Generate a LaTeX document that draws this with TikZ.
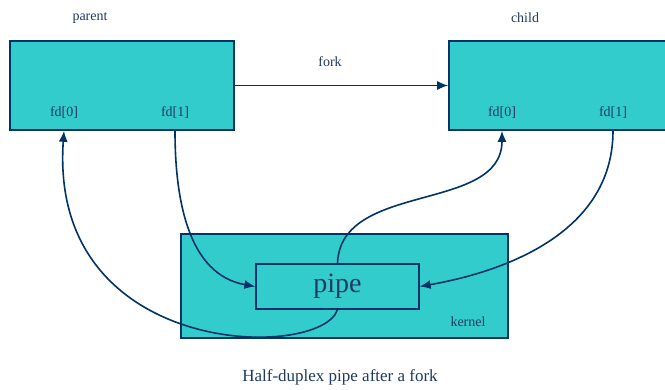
\documentclass[tikz,border=0pt]{standalone}
\usepackage{fontspec}
\setmainfont{Liberation Serif}
\usetikzlibrary{arrows.meta}
\definecolor{pipecyan}{HTML}{33CCCC}
\definecolor{pipenavy}{HTML}{003366}
\definecolor{textnavy}{HTML}{1F3A60}
\tikzset{>={Latex[length=11pt,width=9pt]}}
\tikzset{proc/.style = {shape=rectangle,draw=pipenavy,fill=pipecyan,line width=1.6pt,inner sep=0pt}}
\tikzset{lbl/.style = {text=textnavy,font=\fontsize{14}{16}\selectfont,inner sep=0pt}}
\tikzset{flow/.style = {draw=pipenavy,line width=1.6pt,->}}

\begin{document}
\begin{tikzpicture}[x=1pt,y=1pt]
                \clip (0,0) rectangle (665,389);
                \node[proc,minimum width=224pt,minimum height=89pt] (parent) at (122,303.5) {};
                \node[proc,minimum width=224pt,minimum height=89pt] (child) at (561,303.5) {};
                \node[proc,minimum width=327pt,minimum height=104pt] (kernel) at (344.5,103) {};
                \node[proc,line width=1.3pt,minimum width=163pt,minimum height=45pt,
                      text=textnavy,font=\fontsize{28}{30}\selectfont] (pipe) at (337.5,102.5) {pipe};

                \node[lbl] (ptitle) at (90,371) {parent};
                \node[lbl] (ctitle) at (525,371) {child};
                \node[lbl] (fork) at (330,327) {fork};
                \node[lbl] (pfd0) at (64,276) {fd[0]};
                \node[lbl] (pfd1) at (175,276) {fd[1]};
                \node[lbl] (cfd0) at (502,276) {fd[0]};
                \node[lbl] (cfd1) at (613,276) {fd[1]};
                \node[lbl] (klbl) at (468,67) {kernel};
                \node[lbl,font=\fontsize{17}{20}\selectfont] (caption) at (340,12) {Half-duplex pipe after a fork};

                \draw[flow] (parent.east) -- (child.west);
                \draw[flow] (pfd1 |- parent.south) to[out=-90,in=170] (pipe.west);
                \draw[flow] (pipe.south) to[out=-108,in=-94,out looseness=0.42,in looseness=1.8] (pfd0 |- parent.south);
                \draw[flow] (pipe.north) to[out=88,in=-90] (cfd0 |- child.south);
                \draw[flow] (cfd1 |- child.south) to[out=-90,in=10] (pipe.east);
            \end{tikzpicture}
\end{document}
